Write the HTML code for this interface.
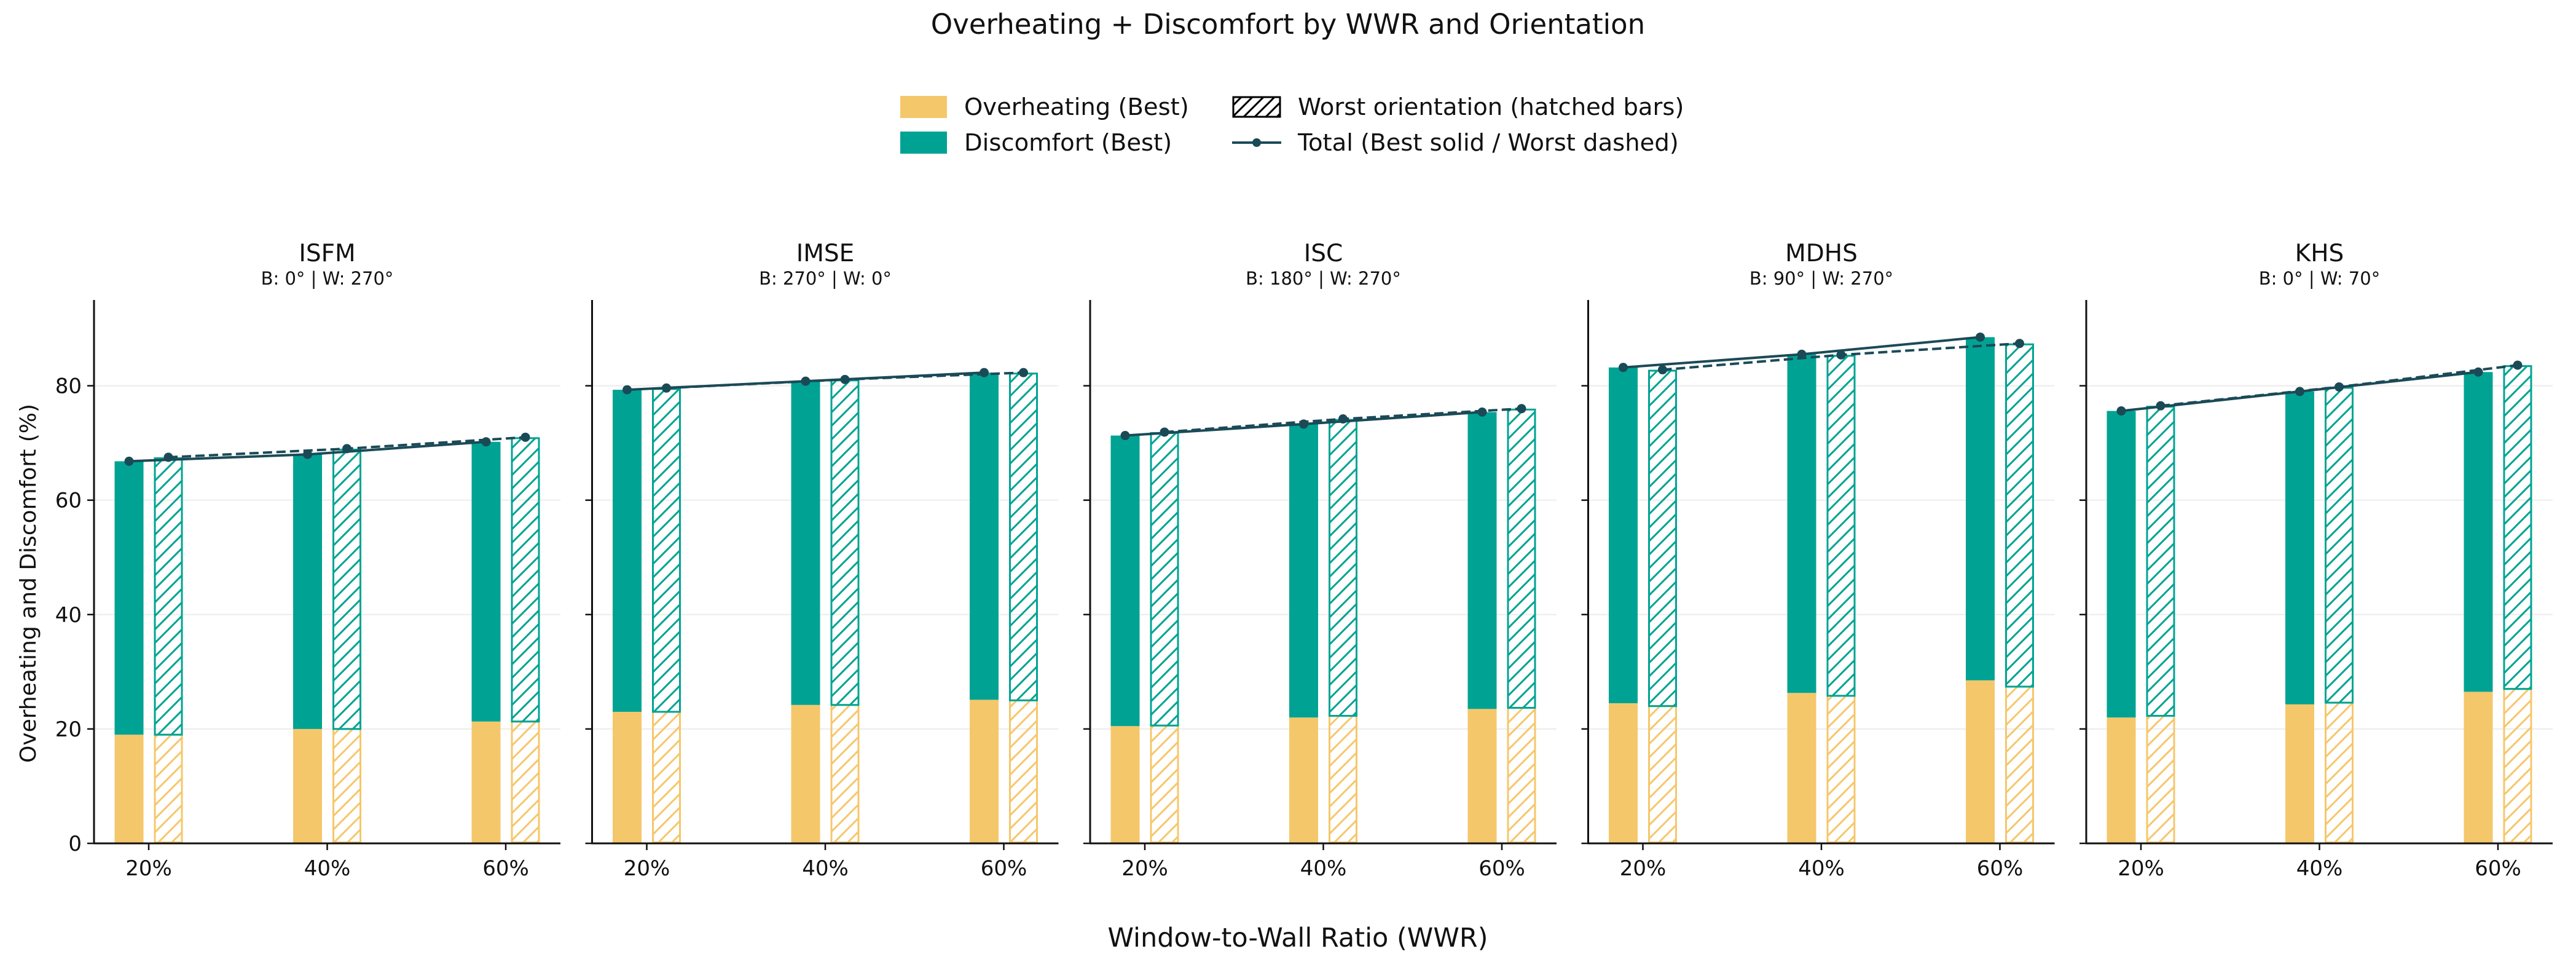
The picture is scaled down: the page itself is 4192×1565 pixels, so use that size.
<!DOCTYPE html>
<html><head><meta charset="utf-8">
<style>
html,body{margin:0;padding:0;background:#fff;}
svg{display:block;font-family:"DejaVu Sans","Liberation Sans",sans-serif;}
</style></head>
<body>
<svg id="chart" width="4192" height="1565" viewBox="0 0 4192 1565" xmlns="http://www.w3.org/2000/svg">
<defs>
<pattern id="hatchT" patternUnits="userSpaceOnUse" width="22" height="22">
<path d="M-5,5 L5,-5 M0,22 L22,0 M17,27 L27,17" stroke="#00a393" stroke-width="3"/>
</pattern>
<pattern id="hatchO" patternUnits="userSpaceOnUse" width="22" height="22">
<path d="M-5,5 L5,-5 M0,22 L22,0 M17,27 L27,17" stroke="#f5c76b" stroke-width="3"/>
</pattern>
<pattern id="hatchK" patternUnits="userSpaceOnUse" width="18" height="18">
<path d="M-4,4 L4,-4 M0,18 L18,0 M14,22 L22,14" stroke="#000" stroke-width="3"/>
</pattern>
</defs>
<text x="2096" y="55" font-size="45" text-anchor="middle" fill="#111">Overheating + Discomfort by WWR and Orientation</text>
<g>
<rect x="1465" y="156" width="76" height="36" fill="#f5c76b"/>
<text x="1569" y="187" font-size="38.5" fill="#111">Overheating (Best)</text>
<rect x="1465" y="214" width="76" height="36" fill="#00a393"/>
<text x="1569" y="245" font-size="38.5" fill="#111">Discomfort (Best)</text>
<rect x="2007" y="158" width="76" height="32" fill="url(#hatchK)" stroke="#000" stroke-width="3"/>
<text x="2112" y="187" font-size="38.5" fill="#111">Worst orientation (hatched bars)</text>
<line x1="2005" y1="232" x2="2085" y2="232" stroke="#1b4a57" stroke-width="4"/>
<circle cx="2045" cy="232" r="7" fill="#1b4a57"/>
<text x="2112" y="245" font-size="38.5" fill="#111">Total (Best solid / Worst dashed)</text>
</g>
<text transform="translate(58,949) rotate(-90)" font-size="36" text-anchor="middle" fill="#111">Overheating and Discomfort (%)</text>
<text x="2112" y="1540" font-size="43" text-anchor="middle" fill="#111">Window-to-Wall Ratio (WWR)</text>
<g id="panels"></g>
</svg>
<script>
const panelNames = ["ISFM","IMSE","ISC","MDHS","KHS"];
const panelSubs = ["B: 0° | W: 270°","B: 270° | W: 0°","B: 180° | W: 270°","B: 90° | W: 270°","B: 0° | W: 70°"];
const categories = ["20%","40%","60%"];
const yTicks = [0,20,40,60,80];
const overheatBest = [[19,20,21.3],[23,24.2,25.1],[20.5,22,23.5],[24.5,26.3,28.5],[22,24.3,26.5]];
const totalBest = [[66.8,68,70.2],[79.3,80.8,82.3],[71.3,73.3,75.4],[83.2,85.5,88.5],[75.6,79,82.4]];
const overheatWorst = [[19,20,21.3],[23,24.2,25],[20.6,22.3,23.7],[24,25.8,27.4],[22.3,24.6,27]];
const totalWorst = [[67.5,69,71],[79.6,81.1,82.3],[71.9,74.2,76],[82.8,85.4,87.4],[76.5,79.8,83.6]];

const NS="http://www.w3.org/2000/svg";
const root=document.getElementById('panels');
const Y0=1372, YTOP=488, YMAX=95;
const y=v=>Y0-(v/YMAX)*(Y0-YTOP);
const panelLeft=i=>153+i*810.5;
const AXW=759;
const xc=(i,j)=>panelLeft(i)+89+j*290.5;
const BW=47, OFF=32;
function mk(tag,attrs,parent){const e=document.createElementNS(NS,tag);for(const k in attrs)e.setAttribute(k,attrs[k]);(parent||root).appendChild(e);return e;}

panelNames.forEach((nm,i)=>{
  const g=mk('g',{});
  
  
  const L=panelLeft(i);
  const t=mk('text',{x:L+AXW/2,y:425,'font-size':39,'text-anchor':'middle',fill:'#111'},g);t.textContent=nm;
  
  
  const s=mk('text',{x:L+AXW/2,y:463,'font-size':29,'text-anchor':'middle',fill:'#111'},g);s.textContent=panelSubs[i];
  
  
  yTicks.forEach(v=>{
    if(v>0){const gl=mk('line',{x1:L,x2:L+AXW,y1:y(v),y2:y(v),stroke:'#ececec','stroke-width':2},g);
      
      }
    const tk=mk('line',{x1:L-11,x2:L,y1:y(v),y2:y(v),stroke:'#111','stroke-width':2.5},g);
    
    
    if(i===0){const tl=mk('text',{x:L-20,y:y(v)+12,'font-size':34,'text-anchor':'end',fill:'#111'},g);tl.textContent=v;
      
      }
  });
  categories.forEach((c,j)=>{
    const x=xc(i,j);
    const ob=overheatBest[i][j], tb=totalBest[i][j], ow=overheatWorst[i][j], tw=totalWorst[i][j];
    const r1=mk('rect',{x:x-OFF-BW/2,y:y(ob),width:BW,height:Y0-y(ob),fill:'#f5c76b'},g);
    
    
    const r2=mk('rect',{x:x-OFF-BW/2,y:y(tb),width:BW,height:y(ob)-y(tb),fill:'#00a393'},g);
    
    
    const r3=mk('rect',{x:x+OFF-BW/2+1.5,y:y(ow),width:BW-3,height:Y0-y(ow)-1.5,fill:'url(#hatchO)',stroke:'#f5c76b','stroke-width':3},g);
    
    
    const r4=mk('rect',{x:x+OFF-BW/2+1.5,y:y(tw)+1.5,width:BW-3,height:y(ow)-y(tw)-1.5,fill:'url(#hatchT)',stroke:'#00a393','stroke-width':3},g);
    
    
    const xt=mk('line',{x1:x,x2:x,y1:Y0,y2:Y0+11,stroke:'#111','stroke-width':2.5},g);
    
    
    const xl=mk('text',{x:x,y:1424,'font-size':34,'text-anchor':'middle',fill:'#111'},g);xl.textContent=c;
    
    
  });
  const pb=categories.map((c,j)=>(xc(i,j)-OFF)+','+y(totalBest[i][j])).join(' ');
  const pw=categories.map((c,j)=>(xc(i,j)+OFF)+','+y(totalWorst[i][j])).join(' ');
  const lb=mk('polyline',{points:pb,fill:'none',stroke:'#1b4a57','stroke-width':4},g);
  
  
  const lw=mk('polyline',{points:pw,fill:'none',stroke:'#1b4a57','stroke-width':4,'stroke-dasharray':'15 7'},g);
  
  
  categories.forEach((c,j)=>{
    const m1=mk('circle',{cx:xc(i,j)-OFF,cy:y(totalBest[i][j]),r:7.5,fill:'#1b4a57'},g);
    
    
    const m2=mk('circle',{cx:xc(i,j)+OFF,cy:y(totalWorst[i][j]),r:7.5,fill:'#1b4a57'},g);
    
    
  });
  const ya=mk('line',{x1:L,x2:L,y1:YTOP,y2:Y0+1,stroke:'#111','stroke-width':3},g);
  
  
  const xa=mk('line',{x1:L-1,x2:L+AXW,y1:Y0,y2:Y0,stroke:'#111','stroke-width':3},g);
  
  
});
</script>
</body></html>
